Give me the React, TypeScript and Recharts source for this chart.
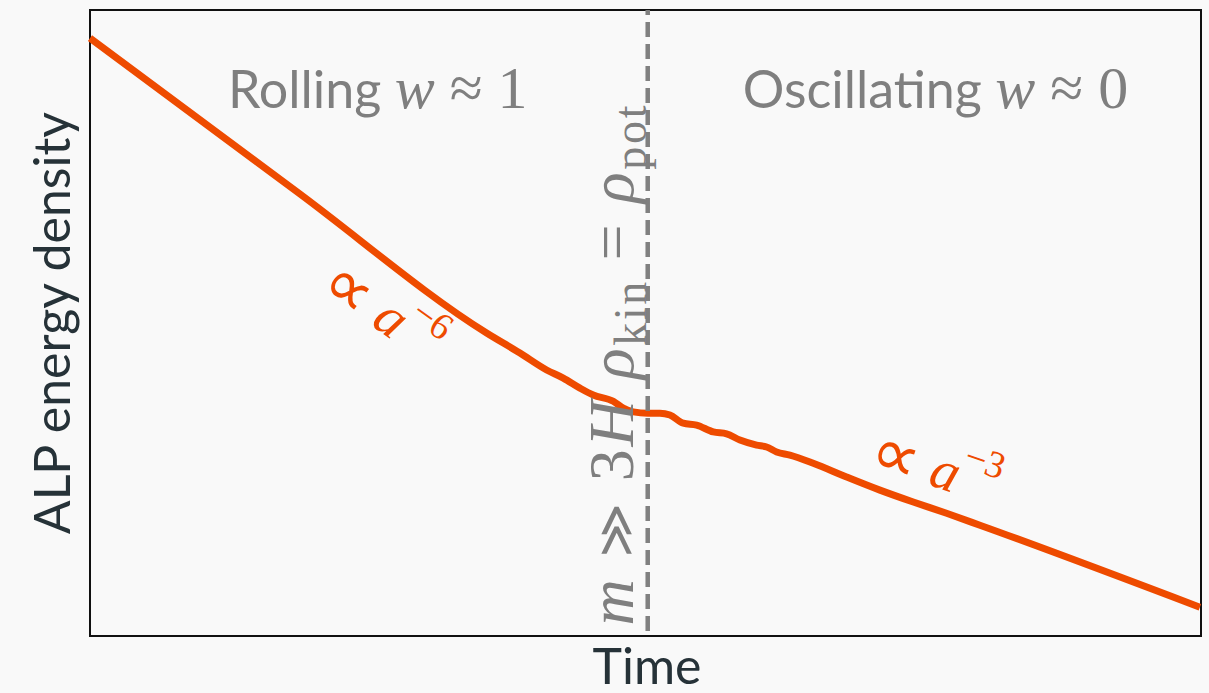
import React from "react";
import { LineChart, Line, XAxis, YAxis, ReferenceLine, ReferenceArea, ReferenceDot } from "recharts";

// log-time vs log-density, arbitrary units (0..10 on both axes)
const logTime = [
  0, 1.89, 3.57, 3.87, 4.11, 4.26, 4.41, 4.53, 4.71, 4.8, 4.89, 5.02, 5.13, 5.22, 5.34, 5.46, 5.61,
  5.73, 5.85, 6.0, 6.09, 6.18, 6.3, 6.51, 6.81, 7.11, 7.41, 7.71, 8.01, 9.99,
];
const logDensity = [
  9.55, 7.06, 4.84, 4.52, 4.25, 4.12, 3.96, 3.85, 3.75, 3.64, 3.58, 3.56, 3.56, 3.53, 3.4, 3.37, 3.26,
  3.23, 3.13, 3.05, 3.02, 2.94, 2.89, 2.76, 2.54, 2.33, 2.14, 1.96, 1.77, 0.46,
];

const transitionTime = 5.02;

const data = logTime.map((t, i) => ({ t, rho: logDensity[i] }));

const ORANGE = "#ee4b00";
const GREY = "#7f7f7f";
const INK = "#263238";
const SANS = "Lato, 'Noto Sans', sans-serif";
const SERIF = "'Liberation Serif', 'DejaVu Serif', serif";
const SYMBOL = "'DejaVu Sans', sans-serif";

const Regime = (label: string, value: string) => (p: any) => (
  <text x={p.cx} y={p.cy} textAnchor="middle" fontFamily={SANS} fontSize={52} fill={GREY}>
    {label + " "}
    <tspan fontFamily={SERIF} fontStyle="italic" fontSize={60}>w</tspan>
    <tspan fontFamily={SERIF} fontSize={60}>{" \u2248 " + value}</tspan>
  </text>
);

const PowerLaw = (exp: string, angle: number) => (p: any) => (
  <text
    transform={`translate(${p.cx},${p.cy}) rotate(${angle})`}
    textAnchor="middle"
    dominantBaseline="central"
    fontFamily={SERIF}
    fontSize={56}
    fill={ORANGE}
  >
    <tspan fontFamily={SYMBOL} fontSize={68}>{"\u221d"}</tspan>
    <tspan fontStyle="italic">{" a"}</tspan>
    <tspan fontSize={38} dy={-22}>{"\u2212" + exp}</tspan>
  </text>
);

const Condition = (p: any) => (
  <text
    transform={`translate(${p.cx},${p.cy}) rotate(-90)`}
    textAnchor="middle"
    fontFamily={SERIF}
    fontSize={64}
    fill={GREY}
    textLength={520}
    lengthAdjust="spacing"
  >
    <tspan fontStyle="italic">m</tspan>
    <tspan fontFamily={SYMBOL} fontSize={52}>{" \u226b "}</tspan>
    {"3"}
    <tspan fontStyle="italic">H</tspan>
    <tspan fontStyle="italic">{" \u03c1"}</tspan>
    <tspan fontSize={46} dy={13}>kin</tspan>
    <tspan dy={-13}>{" = "}</tspan>
    <tspan fontStyle="italic">{"\u03c1"}</tspan>
    <tspan fontSize={46} dy={13}>pot</tspan>
  </text>
);

export default function App() {
  return (
    <div style={{ position: "absolute", left: 0, top: 0, width: 1209, height: 693, background: "#f9f9f9" }}>
      <LineChart width={1209} height={693} data={data} margin={{ top: 10, right: 8, bottom: 57, left: 90 }}>
        <XAxis dataKey="t" type="number" domain={[0, 10]} hide />
        <YAxis type="number" domain={[0, 10]} hide />
        <Line
          dataKey="rho"
          type="monotone"
          stroke={ORANGE}
          strokeWidth={7}
          dot={false}
          isAnimationActive={false}
        />
        <ReferenceLine x={transitionTime} stroke="#808080" strokeWidth={4.5} strokeDasharray="15 7" strokeDashoffset={-5} />
        <ReferenceArea x1={0} x2={10} y1={0} y2={10} fill="none" stroke="#111" strokeWidth={2} />
        <ReferenceDot x={2.59} y={8.43} r={0} shape={Regime("Rolling", "1")} />
        <ReferenceDot x={7.61} y={8.43} r={0} shape={Regime("Oscillating", "0")} />
        <ReferenceDot x={2.64} y={5.2} r={0} shape={PowerLaw("6", 36)} />
        <ReferenceDot x={7.61} y={2.7} r={0} shape={PowerLaw("3", 19)} />
        <ReferenceDot x={4.89} y={4.32} r={0} shape={Condition} />
      </LineChart>
      <svg width={1209} height={693} style={{ position: "absolute", left: 0, top: 0, pointerEvents: "none" }}>
        <text x={647} y={684} textAnchor="middle" fontFamily={SANS} fontSize={50} fill={INK}>
          Time
        </text>
        <text
          transform="translate(70,323) rotate(-90)"
          textAnchor="middle"
          fontFamily={SANS}
          fontSize={50}
          fill={INK}
        >
          ALP energy density
        </text>
      </svg>
    </div>
  );
}
